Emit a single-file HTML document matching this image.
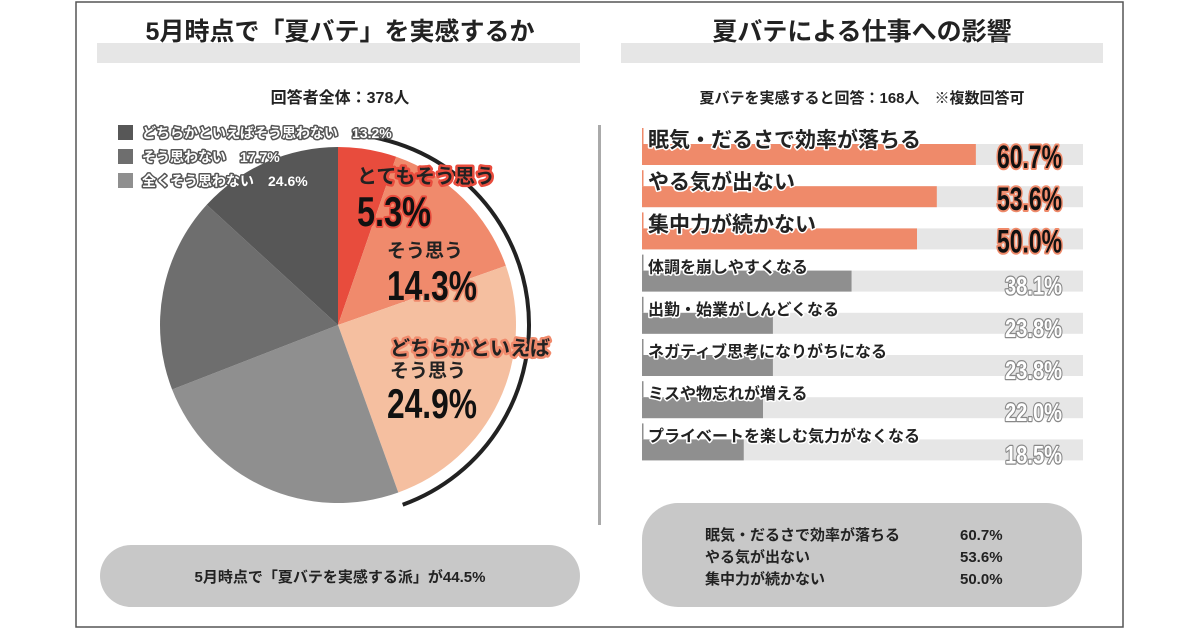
<!DOCTYPE html>
<html><head><meta charset="utf-8"><style>
html,body{margin:0;padding:0;background:#fff;}
svg{display:block;}
text{font-family:"Liberation Sans","Noto Sans CJK JP",sans-serif;font-weight:bold;}
.num{font-family:"Liberation Sans Narrow","Liberation Sans","Noto Sans CJK JP",sans-serif;}
</style></head><body>
<svg id="chart" width="1200" height="630" viewBox="0 0 1200 630" xmlns="http://www.w3.org/2000/svg">
<rect x="76" y="2" width="1047" height="625" fill="#fff" stroke="#555" stroke-width="1.5"/>
<rect x="97" y="43" width="483" height="20" fill="#e6e6e6"/>
<text x="340" y="40" font-size="25" text-anchor="middle" fill="#222">5月時点で「夏バテ」を実感するか</text>
<text x="340" y="103" font-size="16" text-anchor="middle" fill="#222">回答者全体：378人</text>
<g id="pie"></g>
<g id="pieLegend"></g>
<rect x="100" y="545" width="480" height="62" rx="31" fill="#c8c8c8"/>
<text x="340" y="582" font-size="15" text-anchor="middle" fill="#222">5月時点で「夏バテを実感する派」が44.5%</text>
<rect x="598" y="125" width="3" height="400" fill="#aaa"/>
<rect x="621" y="43" width="482" height="20" fill="#e6e6e6"/>
<text x="862" y="40" font-size="25" text-anchor="middle" fill="#222">夏バテによる仕事への影響</text>
<text x="862" y="103" font-size="15" text-anchor="middle" fill="#222">夏バテを実感すると回答：168人　※複数回答可</text>
<g id="bars"></g>
<rect x="642" y="503" width="440" height="104" rx="36" fill="#c8c8c8"/>
<g font-size="15" fill="#222">
<text x="705" y="540">眠気・だるさで効率が落ちる</text>
<text x="960" y="540">60.7%</text>
<text x="705" y="562">やる気が出ない</text>
<text x="960" y="562">53.6%</text>
<text x="705" y="584">集中力が続かない</text>
<text x="960" y="584">50.0%</text>
</g>
</svg>
<script>
const pieCategories = ["とてもそう思う","そう思う","どちらかといえばそう思う","全くそう思わない","そう思わない","どちらかといえばそう思わない"];
const pieValues = [5.3, 14.3, 24.9, 24.6, 17.7, 13.2];
const pieColors = ["#e84c3d","#f08a6c","#f5bfa0","#8f8f8f","#6e6e6e","#575757"];
const legendItems = ["どちらかといえばそう思わない　13.2%","そう思わない　17.7%","全くそう思わない　24.6%"];
const legendColors = ["#575757","#6e6e6e","#8f8f8f"];
const barCategories = ["眠気・だるさで効率が落ちる","やる気が出ない","集中力が続かない","体調を崩しやすくなる","出勤・始業がしんどくなる","ネガティブ思考になりがちになる","ミスや物忘れが増える","プライベートを楽しむ気力がなくなる"];
const barValues = [60.7, 53.6, 50.0, 38.1, 23.8, 23.8, 22.0, 18.5];
const barLabels = ["60.7%","53.6%","50.0%","38.1%","23.8%","23.8%","22.0%","18.5%"];

const NS="http://www.w3.org/2000/svg";
function mk(tag, attrs, parent){const e=document.createElementNS(NS,tag);for(const k in attrs)e.setAttribute(k,attrs[k]);parent.appendChild(e);return e;}
const cx=338, cy=325, r=178;
const total=pieValues.reduce((a,b)=>a+b,0);
function pt(frac,rad){const a=frac*2*Math.PI;return [cx+rad*Math.sin(a), cy-rad*Math.cos(a)];}
const pie=document.getElementById('pie');
let acc=0;
pieValues.forEach((v,i)=>{
  const s=acc/total, e=(acc+v)/total; acc+=v;
  const p0=pt(s,r), p1=pt(e,r);
  const large=(e-s)>0.5?1:0;
  const p=mk('path',{d:`M${cx},${cy} L${p0[0]},${p0[1]} A${r},${r} 0 ${large} 1 ${p1[0]},${p1[1]} Z`,fill:pieColors[i]},pie);
  
  
});
const agree=(pieValues[0]+pieValues[1]+pieValues[2])/total;
const ar=191, a0=pt(0.012,ar), a1=pt(agree,ar);
const arc=mk('path',{d:`M${a0[0]},${a0[1]} A${ar},${ar} 0 0 1 ${a1[0]},${a1[1]}`,fill:'none',stroke:'#222','stroke-width':4},pie);


function lbl(x,y,txt,size,fill,stroke,sw,cls,name,len){const t=mk('text',{x:x,y:y,'font-size':size,fill:fill,stroke:stroke,'stroke-width':sw,'paint-order':'stroke','stroke-linejoin':'round'},pie);if(cls)t.setAttribute('class',cls);if(len){t.setAttribute('textLength',len);t.setAttribute('lengthAdjust','spacingAndGlyphs');}t.textContent=txt;return t;}
lbl(357,183,pieCategories[0],20,'#222','#e84c3d',5,null,'label-very-agree');
lbl(357,226,pieValues[0]+'%',42,'#111','#e84c3d',4,'num','value-very-agree',74);
lbl(387,257,pieCategories[1],19,'#222','#f08a6c',4,null,'label-agree');
lbl(387,300,pieValues[1]+'%',42,'#111','#f08a6c',4,'num','value-agree',90);
lbl(390,355,'どちらかといえば',20,'#222','#f08a6c',5,null,'label-somewhat-agree-1');
lbl(390,377,'そう思う',19,'#222','#f5bfa0',3,null,'label-somewhat-agree-2');
lbl(387,418,pieValues[2].toFixed(1)+'%',42,'#111','#f5bfa0',3,'num','value-somewhat-agree',90);
const lg=document.getElementById('pieLegend');
legendItems.forEach((t,i)=>{
  const y=125+i*24;
  const s=mk('rect',{x:118,y:y,width:15,height:15,fill:legendColors[i]},lg);
  
  
  const tx=mk('text',{x:142,y:y+13,'font-size':14,fill:'#fff',stroke:'#555','stroke-width':3,'paint-order':'stroke','stroke-linejoin':'round'},lg);
  tx.textContent=t;
  
  
});
const bg=document.getElementById('bars');
const x0=642, pxPer=5.5, trackW=441;
function xs(v){return v*pxPer;}
barValues.forEach((v,i)=>{
  const top=144+i*42.2, h=21, big=i<3;
  const tr=mk('rect',{x:x0,y:top,width:trackW,height:h,fill:'#e6e6e6'},bg);
  
  
  const b=mk('rect',{x:x0,y:top,width:xs(v),height:h,fill:big?'#ef8a6a':'#8f8f8f'},bg);
  
  
  const tk=mk('rect',{x:x0,y:top-16,width:1.5,height:16,fill:big?'#ef8a6a':'#8f8f8f'},bg);
  
  
  const lt=mk('text',{x:648,y:big?top+3:top+2,'font-size':big?21:16,fill:'#222',stroke:'#fff','stroke-width':3,'paint-order':'stroke','stroke-linejoin':'round'},bg);
  lt.textContent=barCategories[i];
  
  
  const vt=mk('text',{x:big?997:1005,y:top+h+3,'font-size':big?32:25,'class':'num',fill:big?'#111':'#fff',stroke:big?'#ef8a6a':'#888','stroke-width':big?4:2.5,'paint-order':'stroke','stroke-linejoin':'round',textLength:big?65:57,lengthAdjust:'spacingAndGlyphs'},bg);
  vt.textContent=barLabels[i];
  
  
});
</script>
</body></html>
